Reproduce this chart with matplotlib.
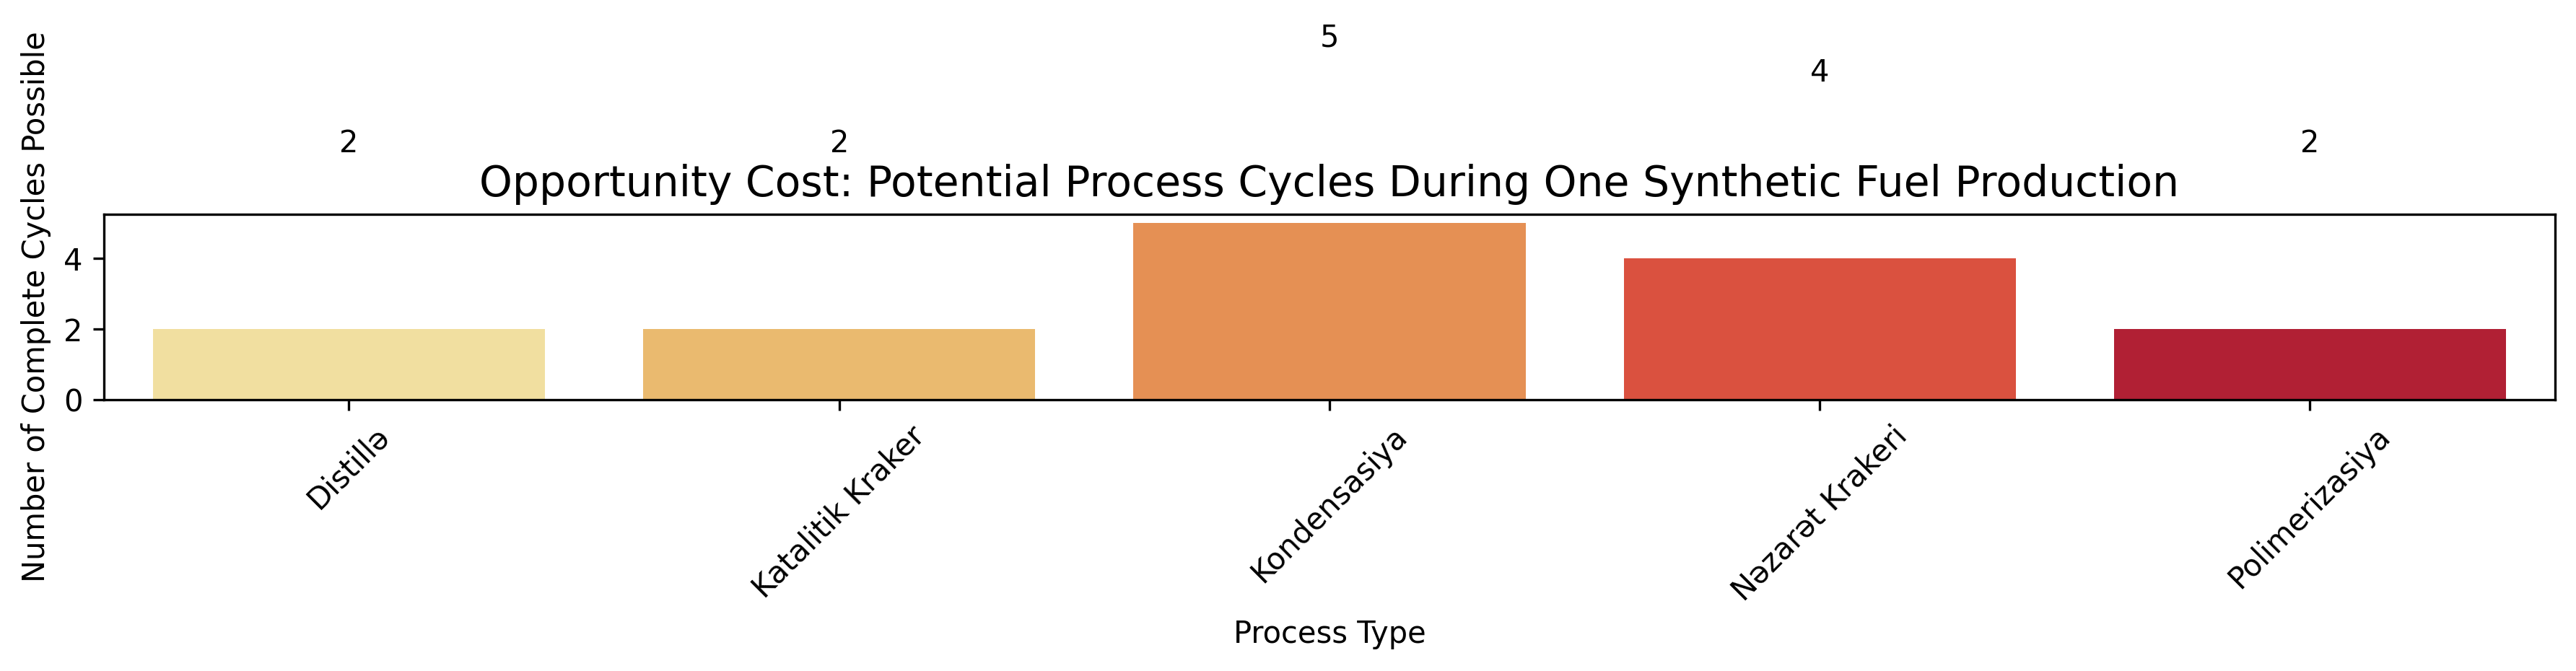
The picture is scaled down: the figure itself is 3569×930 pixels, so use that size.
import matplotlib
matplotlib.use('Agg')
import matplotlib.pyplot as plt
import seaborn as sns
import pandas as pd

processes = ['Distillə', 'Katalitik Kraker', 'Kondensasiya', 'Nəzarət Krakeri', 'Polimerizasiya']
cycles = [2, 2, 5, 4, 2]

df = pd.DataFrame({'Process Type': processes, 'Cycles': cycles})

fig, ax = plt.subplots(figsize=(3569 / 300, 930 / 300), dpi=300)
sns.barplot(data=df, x='Process Type', y='Cycles', hue='Process Type',
            palette='YlOrRd', legend=False, ax=ax)

# value labels sit well above the bars
for i, v in enumerate(cycles):
    ax.text(i, v + 5, str(v), ha='center', va='baseline', fontsize=10)

ax.set_title('Opportunity Cost: Potential Process Cycles During One Synthetic Fuel Production', fontsize=14)
ax.set_xlabel('Process Type')
ax.set_ylabel('Number of Complete Cycles Possible')
plt.xticks(rotation=45)

fig.subplots_adjust(left=0.0403, right=0.9919, bottom=0.4043, top=0.6806)
fig.savefig('out.png', dpi=300)
